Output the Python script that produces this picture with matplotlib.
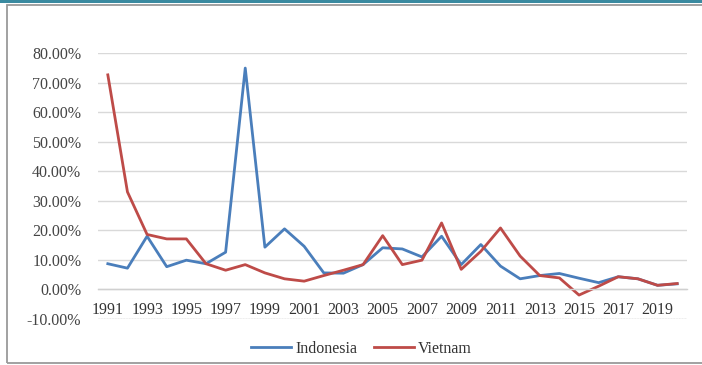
import matplotlib
matplotlib.use("Agg")
import matplotlib.pyplot as plt
from matplotlib.lines import Line2D
from matplotlib.patches import Rectangle
from matplotlib.ticker import FuncFormatter, MultipleLocator

years = list(range(1991, 2021))
indonesia = [8.7, 7.2, 18.0, 7.7, 9.9, 8.7, 12.6, 74.9, 14.3, 20.5,
             14.6, 5.6, 5.5, 8.4, 14.1, 13.7, 11.0, 18.0, 8.4, 15.2,
             7.9, 3.6, 4.7, 5.4, 3.8, 2.3, 4.3, 3.6, 1.4, 1.9]
vietnam = [72.6, 33.0, 18.6, 17.1, 17.1, 8.7, 6.5, 8.4, 5.6, 3.6,
           2.8, 4.7, 6.5, 8.4, 18.2, 8.4, 9.9, 22.5, 6.8, 12.9,
           20.8, 11.3, 4.7, 3.9, -1.9, 1.1, 4.3, 3.6, 1.4, 2.0]
series_names = ["Indonesia", "Vietnam"]
colors = ["#4A7EBB", "#BE4B48"]

plt.rcParams['font.family'] = ['Liberation Serif', 'DejaVu Serif']

fig = plt.figure(figsize=(7.02, 3.65), dpi=100)
ax = fig.add_axes([98/702, 1-319/365, (687-98)/702, (319-53)/365])

x = list(range(len(years)))
ax.plot(x, indonesia, color=colors[0], lw=2.0, solid_joinstyle='round')
ax.plot(x, vietnam, color=colors[1], lw=2.0, solid_joinstyle='round')

ax.set_xlim(-0.5, len(years) - 0.5)
ax.set_ylim(-10, 80)
ax.yaxis.set_major_locator(MultipleLocator(10))
ax.yaxis.set_major_formatter(FuncFormatter(lambda v, p: f"{v:.2f}%"))
ax.grid(axis='y', color='#d9d9d9', lw=1.0)
ax.set_axisbelow(True)

for s in ['top', 'right', 'left']:
    ax.spines[s].set_visible(False)
ax.spines['bottom'].set_position(('data', 0))
ax.spines['bottom'].set_color('#d0d0d0')
ax.spines['bottom'].set_linewidth(1.0)

# bottom (-10%) gridline drawn dotted as in the reference
gl = ax.get_ygridlines()
ax.axhline(-10, color='#c8c8c8', lw=1.0, ls=(0, (1, 1)), zorder=0.5)

tick_idx = x[::2]
ax.set_xticks(tick_idx)
ax.set_xticklabels([str(years[i]) for i in tick_idx])
ax.tick_params(axis='x', length=0, pad=9, labelsize=11.5, colors='#333333')
ax.tick_params(axis='y', length=0, pad=12, labelsize=11.5, colors='#444444')

handles = [Line2D([0], [0], color=c, lw=2.0) for c in colors]
fig.legend(handles, series_names, loc='center', bbox_to_anchor=(0.515, 1-349/365),
           ncol=2, frameon=False, fontsize=11.5, handlelength=2.5,
           columnspacing=1.0, handletextpad=0.3, labelcolor='#333333')

# page decoration: teal top bar and gray frame
fig.add_artist(Rectangle((0, 1-3/365), 1, 3/365, transform=fig.transFigure,
                         color='#3a8aa0', lw=0))
fig.add_artist(Rectangle((7/702, 1-363/365), 1.0, (363-5)/365, transform=fig.transFigure,
                         fill=False, edgecolor='#9a9a9a', lw=1.3))

fig.savefig("out.png", dpi=100)
